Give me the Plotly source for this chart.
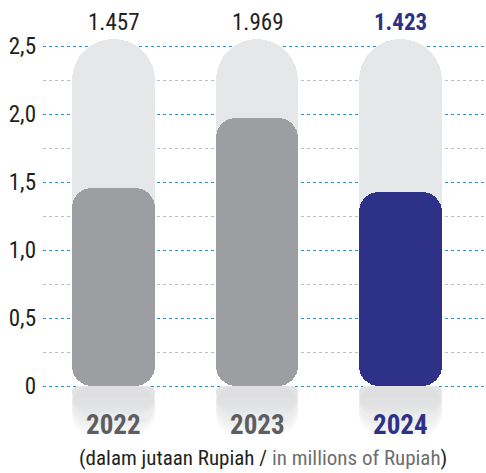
import plotly.graph_objects as go

# ---- data ----
years = ["2022", "2023", "2024"]
values = [1.457, 1.969, 1.423]
value_labels = ["1.457", "1.969", "1.423"]
tick_vals = [0, 0.5, 1.0, 1.5, 2.0, 2.5]
tick_text = ["0", "0,5", "1,0", "1,5", "2,0", "2,5"]
minor_vals = [0.25, 0.75, 1.25, 1.75, 2.25]
caption_main = "(dalam jutaan Rupiah / "
caption_en = "in millions of Rupiah"

# ---- styles ----
FONT = "Liberation Sans Narrow, Roboto Condensed, DejaVu Sans Condensed, Arial Narrow, sans-serif"
bar_colors = ["#9d9ea2", "#9d9ea2", "#2e3188"]
year_colors = ["#5d5e61", "#5d5e61", "#2e3188"]
label_colors = ["#231f20", "#231f20", "#2e3188"]
label_bold = [False, False, True]
BG = "#e6e7e9"
W = 0.576
PILL_TOP = 2.55
REFL_DEPTH = 0.37
RAD = 20

fig = go.Figure()

# reflection: stacked translucent layers giving a fade towards white
N = 18
for k in range(1, N + 1):
    d = REFL_DEPTH * (k / N) ** 0.5
    a = 1.0 / k
    fig.add_trace(go.Bar(
        x=years, y=[d] * 3, base=[-d] * 3, width=W,
        marker=dict(color=f"rgba(228,229,230,{a:.4f})", line=dict(width=0), cornerradius=RAD),
        hoverinfo="skip", showlegend=False))

# background pill
fig.add_trace(go.Bar(
    x=years, y=[PILL_TOP] * 3, base=[0] * 3, width=W,
    marker=dict(color=BG, line=dict(width=0), cornerradius="50%"),
    hoverinfo="skip", showlegend=False))

# value bars (rounded at both ends)
fig.add_trace(go.Bar(
    x=years, y=values, base=[0] * 3, width=W,
    marker=dict(color=bar_colors, line=dict(width=0), cornerradius=RAD),
    hoverinfo="skip", showlegend=False))

annotations = []
for i, (lab, col, b) in enumerate(zip(value_labels, label_colors, label_bold)):
    annotations.append(dict(
        x=i, y=2.676, xref="x", yref="y", showarrow=False,
        text=f"<b>{lab}</b>" if b else lab,
        font=dict(family=FONT, size=23, color=col)))
for i, (yr, col) in enumerate(zip(years, year_colors)):
    annotations.append(dict(
        x=i, y=-0.285, xref="x", yref="y", showarrow=False,
        text=f"<b>{yr}</b>",
        font=dict(family=FONT, size=27, color=col)))
annotations.append(dict(
    x=(262.5 - 43) / 443, xref="paper", xanchor="center",
    y=(473 - 458) / 473, yref="paper", yanchor="middle", showarrow=False,
    text=f"{caption_main}<span style='color:#6d6e71'>{caption_en}</span>)",
    font=dict(family=FONT, size=21, color="#231f20")))

fig.update_layout(
    annotations=annotations,
    width=486, height=473,
    margin=dict(l=43, r=0, t=0, b=0),
    paper_bgcolor="white", plot_bgcolor="white",
    barmode="overlay", bargap=0,
    xaxis=dict(type="category", range=[-0.4896, 2.594], showticklabels=False,
               showgrid=False, zeroline=False, showline=False, ticks=""),
    yaxis=dict(range=[-(473 - 386) / 136, 386 / 136],
               tickvals=tick_vals, ticktext=tick_text,
               tickfont=dict(family=FONT, size=23, color="#231f20"),
               ticks="", ticklabelstandoff=6,
               showgrid=True, gridcolor="#2b93d8", gridwidth=1, griddash="3px,3px",
               zeroline=False, showline=False,
               minor=dict(tickvals=minor_vals, showgrid=True, gridcolor="#bcbec0",
                          gridwidth=1, griddash="3px,3px", ticks="")),
    font=dict(family=FONT),
)

fig.write_html("out.html")
